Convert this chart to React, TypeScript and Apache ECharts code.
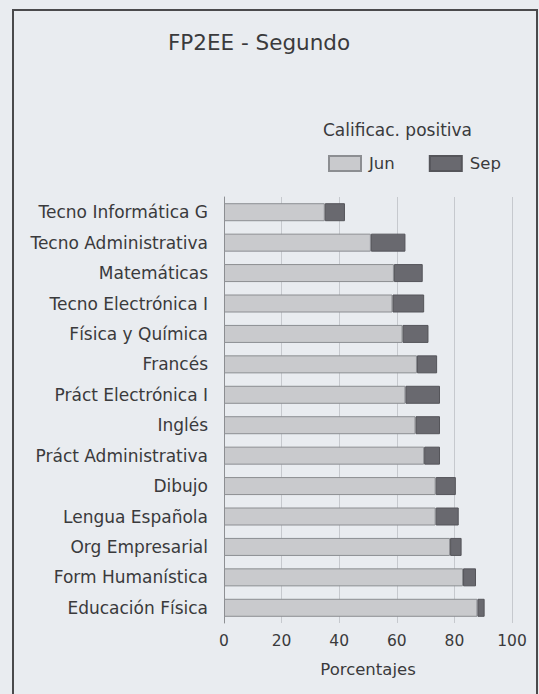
import React, { useEffect, useRef } from "react";
import * as echarts from "echarts";

const categories = [
  "Tecno Informática G",
  "Tecno Administrativa",
  "Matemáticas",
  "Tecno Electrónica I",
  "Física y Química",
  "Francés",
  "Práct Electrónica I",
  "Inglés",
  "Práct Administrativa",
  "Dibujo",
  "Lengua Española",
  "Org Empresarial",
  "Form Humanística",
  "Educación Física",
];
const junValues = [35, 51, 59, 58.5, 62, 67, 63, 66.5, 69.5, 73.5, 73.5, 78.5, 83, 88];
const sepValues = [7, 12, 10, 11, 9, 7, 12, 8.5, 5.5, 7, 8, 4, 4.5, 2.5];
const xTicks = [0, 20, 40, 60, 80, 100];

const FONT = "DejaVu Sans";
const TEXT = "#3a3a3c";

export default function App() {
  const ref = useRef<HTMLDivElement>(null);
  useEffect(() => {
    if (!ref.current) return;
    const chart = echarts.init(ref.current, null, { renderer: "svg" });
    chart.setOption({
      animation: false,
      backgroundColor: "#e9ecf0",
      graphic: [
        {
          type: "rect",
          shape: { x: 13, y: 10, width: 524, height: 700 },
          style: { fill: "none", stroke: "#4a4a4c", lineWidth: 2 },
          silent: true,
        },
        {
          type: "text",
          x: 259,
          y: 42,
          style: {
            text: "FP2EE - Segundo",
            font: `21.5px "${FONT}"`,
            fill: TEXT,
            textAlign: "center",
            textVerticalAlign: "middle",
          },
        },
        {
          type: "text",
          x: 323,
          y: 130,
          style: {
            text: "Calificac. positiva",
            font: `17px "${FONT}"`,
            fill: TEXT,
            textAlign: "left",
            textVerticalAlign: "middle",
          },
        },
      ],
      legend: {
        left: 323,
        top: 150,
        itemWidth: 32,
        itemHeight: 15,
        itemGap: 34,
        icon: "rect",
        textStyle: { fontFamily: FONT, fontSize: 16.5, color: TEXT, padding: [0, 0, 0, 3] },
        data: ["Jun", "Sep"],
      },
      grid: { left: 224, right: 27, top: 197, bottom: 71, containLabel: false },
      xAxis: {
        type: "value",
        min: xTicks[0],
        max: xTicks[xTicks.length - 1],
        interval: 20,
        axisLine: { show: false },
        axisTick: { show: false },
        splitLine: { show: true, lineStyle: { color: "#c6c9ce", width: 1 } },
        axisLabel: { fontFamily: FONT, fontSize: 15.5, color: TEXT, margin: 10 },
        name: "Porcentajes",
        nameLocation: "middle",
        nameGap: 38,
        nameTextStyle: { fontFamily: FONT, fontSize: 16.5, color: TEXT },
      },
      yAxis: {
        type: "category",
        inverse: true,
        data: categories,
        axisLine: { show: true, lineStyle: { color: "#8e9094", width: 1 } },
        axisTick: { show: false },
        axisLabel: { fontFamily: FONT, fontSize: 17, color: TEXT, margin: 16 },
      },
      series: [
        {
          name: "Jun",
          type: "bar",
          stack: "total",
          barWidth: 18,
          data: junValues,
          itemStyle: { color: "#c9cacd", borderColor: "#8c8e92", borderWidth: 1 },
        },
        {
          name: "Sep",
          type: "bar",
          stack: "total",
          barWidth: 18,
          data: sepValues,
          itemStyle: { color: "#69696f", borderColor: "#55555a", borderWidth: 1 },
        },
      ],
    });
    return () => chart.dispose();
  }, []);
  return (
    <div
      ref={ref}
      style={{ position: "fixed", left: 0, top: 0, width: 539, height: 694 }}
    />
  );
}
